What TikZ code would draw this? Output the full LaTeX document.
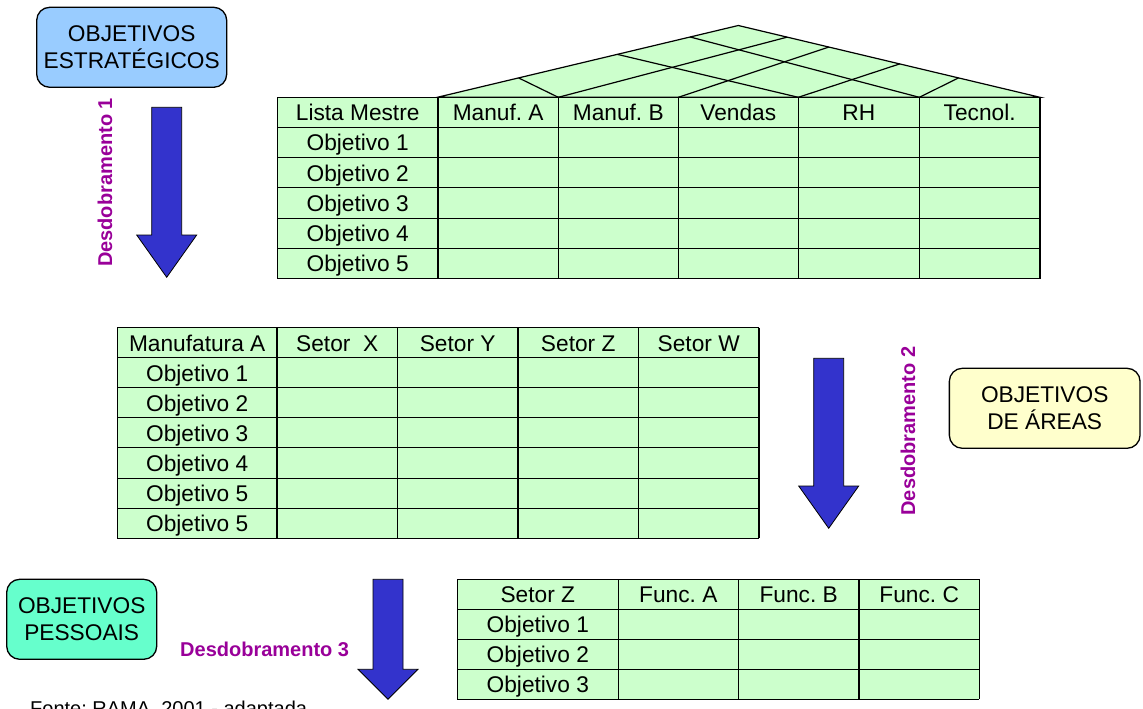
\documentclass[tikz,border=0pt]{standalone}
\usepackage{fontspec}
\setmainfont{Liberation Sans}
\usetikzlibrary{calc}
\frenchspacing

\definecolor{cellgreen}{HTML}{CCFFCC}
\definecolor{stratblue}{HTML}{99CCFF}
\definecolor{areayellow}{HTML}{FFFFCC}
\definecolor{personaqua}{HTML}{66FFCC}
\definecolor{arrowblue}{HTML}{3333CC}
\definecolor{labelpurple}{HTML}{990099}

\newcommand\bigfont{\fontsize{22.7bp}{27.3bp}\selectfont}
\newcommand\labfont{\fontsize{20bp}{24bp}\selectfont\bfseries}
\newcommand\notefont{\fontsize{20bp}{24bp}\selectfont}

% block arrow pointing down: centre x, top y, head base y, tip y
\newcommand\blockarrow[4]{%
  \draw[downarrow] (#1-15,#2) -- (#1+15,#2) -- (#1+15,#3) -- (#1+30,#3)
    -- (#1,#4) -- (#1-30,#3) -- (#1-15,#3) -- cycle;}

\tikzset{
  grid/.style={draw=black, line width=1.1bp},
  cell/.style={anchor=base, inner sep=0, font=\bigfont},
  goalbox/.style={draw=black, line width=1.3bp, rounded corners=13bp,
    align=center, inner sep=0, font=\bigfont},
  downarrow/.style={fill=arrowblue, draw=black, line width=0.8bp},
  steplabel/.style={text=labelpurple, font=\labfont, inner sep=0},
  roof/.style={fill=cellgreen, draw=black, line width=1.2bp},
  roofline/.style={draw=black, line width=1.2bp},
}

\begin{document}
\begin{tikzpicture}[x=1bp,y=-1bp]
\useasboundingbox (0,0) rectangle (1143,709);
\clip (0,0) rectangle (1143,709);

% ---------- master list table with correlation roof ----------
\coordinate (rl) at (437.3,97.3);
\coordinate (rt) at (738.3,25.5);
\coordinate (rr) at (1040,97.3);
\filldraw[roof] (rl) -- (rt) -- (rr) -- cycle;
\draw[roofline] (558.3,97.3) -- ($(rl)!0.27!(rt)$);
\draw[roofline] (798.3,97.3) -- ($(rl)!0.598!(rt)$);
\draw[roofline] (919.3,97.3) -- ($(rl)!0.84!(rt)$);
\draw[roofline] (558.3,97.3) -- ($(rr)!0.838!(rt)$);
\draw[roofline] (678.3,97.3) -- ($(rr)!0.70!(rt)$);
\draw[roofline] (798.3,97.3) -- ($(rr)!0.465!(rt)$);
\draw[roofline] (919.3,97.3) -- ($(rr)!0.27!(rt)$);

\fill[cellgreen] (277.3,97.3) rectangle (1040,278.5);
\foreach \x in {277.3,438,558.3,678.3,798.3,919.3,1040}
  \draw[grid] (\x,97.3) -- (\x,278.5);
\foreach \k in {0,...,6}
  \draw[grid] (277.3,97.3+30.2*\k) -- (1040,97.3+30.2*\k);
\foreach \t/\xc [count=\i] in {Lista Mestre/357.7, Manuf. A/498.2,
    Manuf. B/618.3, Vendas/738.3, RH/858.8, Tecnol./979.7}
  \node[cell] (ma-h\i) at (\xc,120.8) {\t};
\foreach \i in {1,...,5}
  \node[cell] (ma-r\i) at (357.7,120.8+30.2*\i) {Objetivo \i};

% ---------- area table ----------
\fill[cellgreen] (117.3,327.5) rectangle (759,538.3);
\foreach \x in {117.3,277,397.3,518,638.3,759}
  \draw[grid] (\x,327.5) -- (\x,538.3);
\foreach \k in {0,...,7}
  \draw[grid] (117.3,327.5+30.11*\k) -- (759,327.5+30.11*\k);
\foreach \t/\xc [count=\i] in {Manufatura A/197.2, Setor~ X/337.2,
    Setor Y/457.7, Setor Z/578.2, Setor W/698.7}
  \node[cell] (ar-h\i) at (\xc,351) {\t};
\foreach \n [count=\i] in {1,2,3,4,5,5}
  \node[cell] (ar-r\i) at (197.2,351+30.11*\i) {Objetivo \n};

% ---------- sector table ----------
\fill[cellgreen] (457.3,579.3) rectangle (979.3,699.3);
\foreach \x in {457.3,618.3,738.3,859,979.3}
  \draw[grid] (\x,579.3) -- (\x,699.3);
\foreach \k in {0,...,4}
  \draw[grid] (457.3,579.3+30*\k) -- (979.3,579.3+30*\k);
\foreach \t/\xc [count=\i] in {Setor Z/537.8, Func. A/678.3,
    Func. B/798.7, Func. C/919.2}
  \node[cell] (se-h\i) at (\xc,602.8) {\t};
\foreach \i in {1,...,3}
  \node[cell] (se-r\i) at (537.8,602.8+30*\i) {Objetivo \i};

% ---------- objective boxes ----------
\node[goalbox, fill=stratblue, minimum width=190bp, minimum height=80bp]
  (strat) at (131.7,47.3) {OBJETIVOS\\ESTRATÉGICOS};
\node[goalbox, fill=areayellow, minimum width=190.7bp, minimum height=80bp]
  (areas) at (1044.7,408.3) {OBJETIVOS\\DE ÁREAS};
\node[goalbox, fill=personaqua, minimum width=150bp, minimum height=80bp]
  (pessoais) at (81.7,619.3) {OBJETIVOS\\PESSOAIS};

% ---------- unfolding arrows ----------
\blockarrow{166.7}{107.3}{235}{277.3}
\blockarrow{828.7}{358.3}{486}{528.3}
\blockarrow{388}{579.3}{669.3}{699.3}

\node[steplabel, rotate=90] (d1) at (105,182.5) {Desdobramento 1};
\node[steplabel, rotate=90] (d2) at (908,431) {Desdobramento 2};
\node[steplabel, anchor=base west] (d3) at (180,656) {Desdobramento 3};

% ---------- source note ----------
\node[anchor=base west, inner sep=0, font=\notefont] (fonte) at (30,715.5)
  {Fonte: RAMA, 2001 - adaptada};
\end{tikzpicture}
\end{document}
